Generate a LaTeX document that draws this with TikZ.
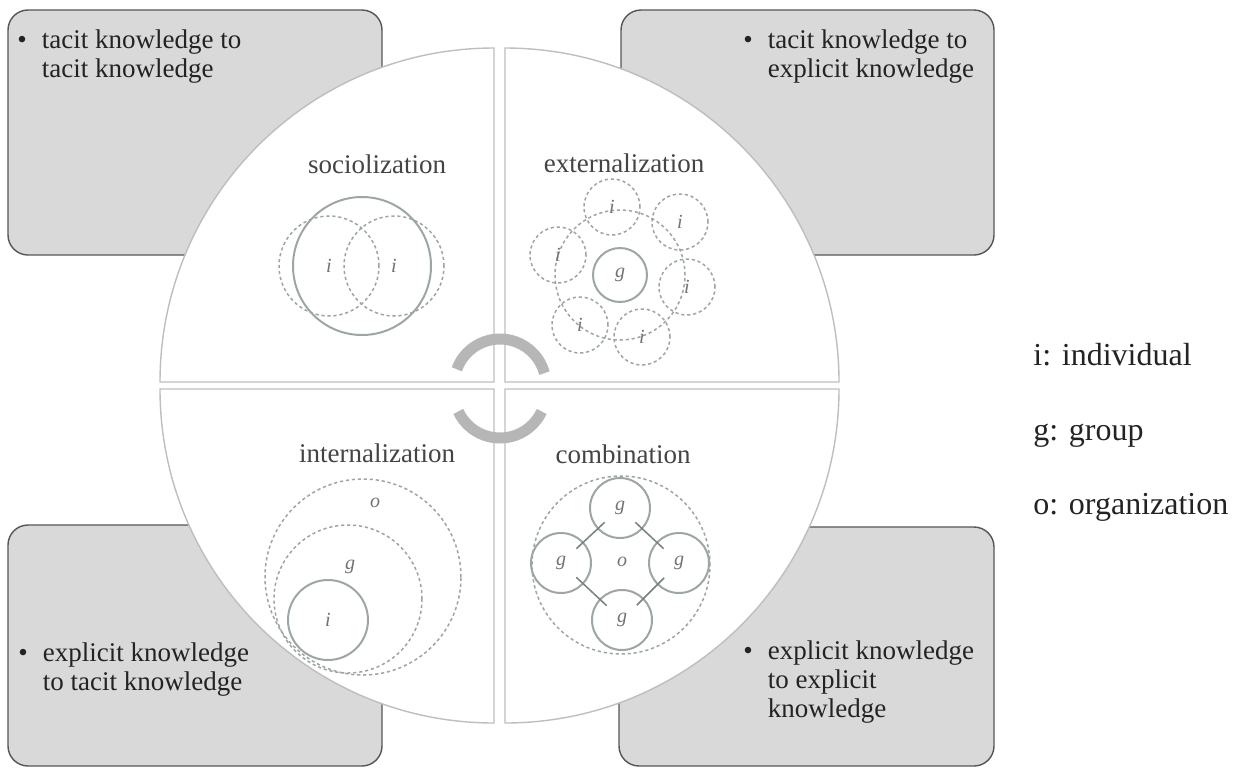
\documentclass[tikz,border=0pt]{standalone}
\usepackage{fontspec}
\setmainfont{Liberation Serif}

\definecolor{boxfill}{RGB}{217,217,217}
\definecolor{boxline}{RGB}{85,85,85}
\definecolor{ring}{RGB}{158,166,163}
\definecolor{ringdark}{RGB}{118,128,124}
\definecolor{quadline}{RGB}{190,190,190}
\definecolor{turngray}{RGB}{182,182,182}
\definecolor{ink}{RGB}{35,35,35}

\newcommand{\bitem}[1]{\textbullet\hspace{7.5pt}\begin{tabular}[t]{@{}l@{}}#1\end{tabular}}

\tikzset{
  modebox/.style={draw=boxline, fill=boxfill, rounded corners=10pt, line width=0.7pt},
  quad/.style={fill=white, draw=quadline, line width=0.7pt},
  turn/.style={draw=turngray, line width=5.5pt},
  boxtext/.style={anchor=base west, inner sep=0pt, text=ink,
    font=\fontsize{13.5}{14.6}\selectfont},
  modename/.style={anchor=base, inner sep=0pt, text=ink!85,
    font=\fontsize{13.5}{14}\selectfont},
  keytext/.style={anchor=base west, inner sep=0pt, text=ink,
    font=\fontsize{16}{18}\selectfont},
  solidring/.style={circle, draw=ring, line width=1pt, inner sep=0pt,
    text=black!55, font=\fontsize{10}{10}\selectfont\itshape},
  dashring/.style={solidring, dashed, dash pattern=on 1.6pt off 1.4pt, line width=0.75pt},
  letter/.style={inner sep=0pt, text=black!55, font=\fontsize{10}{10}\selectfont\itshape},
  link/.style={draw=ringdark, line width=0.75pt, shorten <=10.5pt, shorten >=10.5pt}
}

\begin{document}
\begin{tikzpicture}[x=0.5pt,y=-0.5pt]
  \useasboundingbox (0,0) rectangle (1237,767);

  % the four grey boxes behind the disc
  \draw[modebox] (8,10) rectangle (382,255);
  \draw[modebox] (621,10) rectangle (994,255);
  \draw[modebox] (8,525) rectangle (382,766);
  \draw[modebox] (619,527) rectangle (994,766);

  \node[boxtext] (tt) at (17,48) {\bitem{tacit knowledge to\\tacit knowledge}};
  \node[boxtext] (te) at (743,48) {\bitem{tacit knowledge to\\explicit knowledge}};
  \node[boxtext] (et) at (18,661) {\bitem{explicit knowledge\\to tacit knowledge}};
  \node[boxtext] (ee) at (743,659) {\bitem{explicit knowledge\\to explicit\\knowledge}};

  % disc cut in four quarters
  \draw[quad] (494,382) -- (494,48) arc[start angle=270, end angle=180, radius=334] -- cycle;
  \draw[quad] (505,382) -- (839,382) arc[start angle=0, end angle=-90, radius=334] -- cycle;
  \draw[quad] (494,389) -- (160,389) arc[start angle=180, end angle=90, radius=334] -- cycle;
  \draw[quad] (505,389) -- (505,723) arc[start angle=90, end angle=0, radius=334] -- cycle;

  % turning arrows in the middle
  \coordinate (up) at (500,385);
  \coordinate (down) at (500,392);
  \draw[turn] ([shift={(-160:46)}]up) arc[start angle=-160, end angle=-15, radius=46];
  \draw[turn] ([shift={(155:46)}]down) arc[start angle=155, end angle=25, radius=46];

  \node[modename] (soc) at (377,173) {sociolization};
  \node[modename] (ext) at (624,172) {externalization};
  \node[modename] (int) at (377,462) {internalization};
  \node[modename] (com) at (623,463) {combination};

  % sociolization
  \node[solidring, minimum size=69pt] (socg) at (362,266) {};
  \node[dashring, minimum size=50pt] (soci1) at (329,266) {i};
  \node[dashring, minimum size=50pt] (soci2) at (394,266) {i};

  % externalization
  \node[dashring, minimum size=65pt] (extring) at (620,275) {};
  \node[solidring, minimum size=27pt] (extg) at (620,275) {g};
  \foreach \n/\x/\y in {1/612/207, 2/680/222, 3/687/287, 4/642/337, 5/580/325, 6/558/255}
    \node[dashring, minimum size=28pt] (exti\n) at (\x,\y) {i};

  % internalization
  \node[dashring, minimum size=98pt] (into) at (363,577) {};
  \node[dashring, minimum size=74pt] (intg) at (348,599) {};
  \node[solidring, minimum size=40pt] (inti) at (328,620) {i};
  \node[letter] (intolabel) at (375,503) {o};
  \node[letter] (intglabel) at (350,567) {g};

  % combination
  \node[dashring, minimum size=89pt] (como) at (621,565) {};
  \node[letter] (comolabel) at (622,562) {o};
  \node[solidring, minimum size=30pt] (cgt) at (620,508) {g};
  \node[solidring, minimum size=30pt] (cgl) at (561,563) {g};
  \node[solidring, minimum size=30pt] (cgr) at (679,563) {g};
  \node[solidring, minimum size=30pt] (cgb) at (622,620) {g};
  \draw[link] (cgt.center) -- (cgl.center);
  \draw[link] (cgt.center) -- (cgr.center);
  \draw[link] (cgl.center) -- (cgb.center);
  \draw[link] (cgr.center) -- (cgb.center);

  % key
  \node[keytext] (keyi) at (1033,365) {i: individual};
  \node[keytext] (keyg) at (1033,440) {g: group};
  \node[keytext] (keyo) at (1033,514) {o: organization};
\end{tikzpicture}
\end{document}
